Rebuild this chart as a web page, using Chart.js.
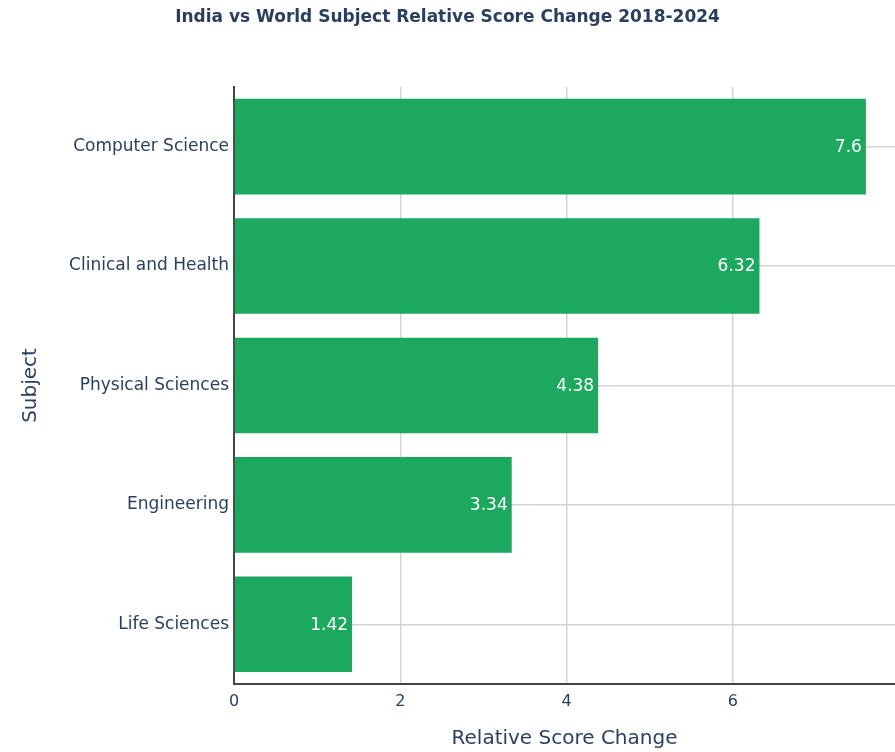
<!DOCTYPE html>
<html>
<head>
<meta charset="utf-8">
<title>India vs World Subject Relative Score Change 2018-2024</title>
<script src="https://cdn.jsdelivr.net/npm/chart.js@4/dist/chart.umd.min.js"></script>
<style>
  html, body { margin: 0; padding: 0; background: #fff; }
  #wrap { width: 895px; height: 752px; }
</style>
</head>
<body>
<div id="wrap"><canvas id="scoreChart" width="895" height="752"></canvas></div>
<script>
// --- Data ---
const subjects = ['Computer Science', 'Clinical and Health', 'Physical Sciences', 'Engineering', 'Life Sciences'];
const scoreChange = [7.6, 6.32, 4.38, 3.34, 1.42];
const xTicks = [0, 2, 4, 6];

const FONT = "'DejaVu Sans', Verdana, sans-serif";
const TEXT = '#2a3f5f';
const BAR = 'rgb(28, 168, 94)';

// white value labels, right aligned inside each bar end
const barLabels = {
    id: 'barLabels',
    afterDatasetsDraw(chart) {
        const ctx = chart.ctx;
        const meta = chart.getDatasetMeta(0);
        ctx.save();
        ctx.font = '17px ' + FONT;
        ctx.fillStyle = '#ffffff';
        ctx.textAlign = 'right';
        ctx.textBaseline = 'middle';
        meta.data.forEach((bar, i) => {
            ctx.fillText(String(scoreChange[i]), bar.x - 4, bar.y + 1);
        });
        ctx.restore();
    }
};

new Chart(document.getElementById('scoreChart'), {
    type: 'bar',
    data: {
        labels: subjects,
        datasets: [{
            label: 'Relative Score Change',
            data: scoreChange,
            backgroundColor: BAR,
            borderWidth: 0,
            barPercentage: 0.8,
            categoryPercentage: 1.0
        }]
    },
    options: {
        indexAxis: 'y',
        responsive: false,
        animation: false,
        layout: { padding: 0 },
        plugins: {
            legend: { display: false },
            tooltip: { enabled: false },
            title: {
                display: true,
                text: 'India vs World Subject Relative Score Change 2018-2024',
                color: TEXT,
                font: { family: FONT, size: 17, weight: 'bold' },
                padding: { top: 7, bottom: 59.5 }
            }
        },
        scales: {
            x: {
                min: 0,
                max: 7.95,
                afterBuildTicks(scale) {
                    scale.ticks = xTicks.map(v => ({ value: v }));
                },
                afterFit(scale) { scale.height = 68; },
                grid: { color: '#d4d4d4', lineWidth: 1.5, drawTicks: false },
                border: { display: true, color: '#444', width: 2 },
                ticks: { color: TEXT, font: { family: FONT, size: 16 }, padding: 8 },
                title: {
                    display: true,
                    text: 'Relative Score Change',
                    color: TEXT,
                    font: { family: FONT, size: 20 },
                    padding: { top: 0, bottom: 1 }
                }
            },
            y: {
                afterFit(scale) { scale.width = 234; },
                grid: { color: '#d4d4d4', lineWidth: 1.5, drawTicks: false, offset: false },
                border: { display: true, color: '#444', width: 2 },
                ticks: { color: TEXT, font: { family: FONT, size: 17 }, padding: 5 },
                title: {
                    display: true,
                    text: 'Subject',
                    color: TEXT,
                    font: { family: FONT, size: 20 },
                    padding: { top: 19, bottom: 0 }
                }
            }
        }
    },
    plugins: [barLabels]
});
</script>
</body>
</html>
